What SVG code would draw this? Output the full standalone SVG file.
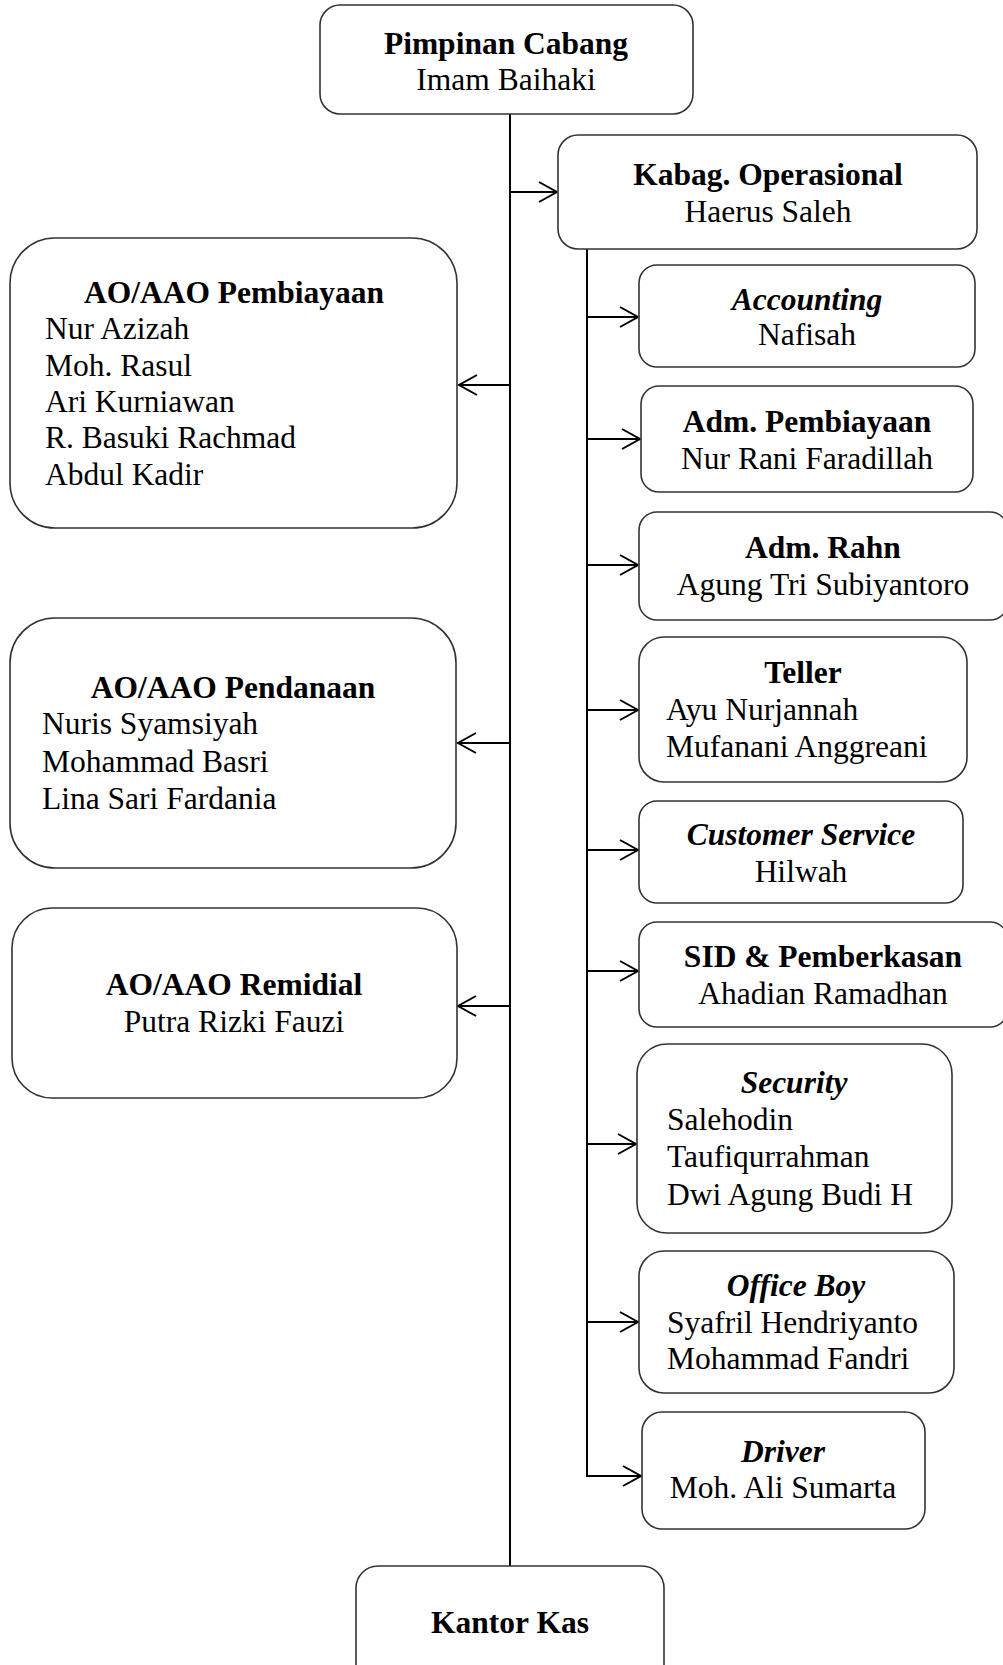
<svg xmlns="http://www.w3.org/2000/svg" width="1003" height="1665" viewBox="0 0 1003 1665">
<style>
.box{fill:#fff;stroke:#333;stroke-width:1.6}
text{font-family:"Liberation Serif","Times New Roman",serif;font-size:31.5px;fill:#000}
.c{text-anchor:middle}
.b{font-weight:bold}
.i{font-style:italic;font-weight:bold}
.ln{fill:none;stroke:#000;stroke-width:2}
</style>
<defs>
<marker id="ah" markerUnits="userSpaceOnUse" markerWidth="24" markerHeight="26" refX="19" refY="11" orient="auto" viewBox="0 0 24 26">
<path d="M1,1 L19,11 L1,21" fill="none" stroke="#000" stroke-width="2"/>
</marker>
</defs>
<g id="connectors">
<path class="ln" d="M510,114 V1566"/>
<path class="ln" d="M510,192 H557" marker-end="url(#ah)"/>
<path class="ln" d="M510,385 H459" marker-end="url(#ah)"/>
<path class="ln" d="M510,743 H458" marker-end="url(#ah)"/>
<path class="ln" d="M510,1006 H458" marker-end="url(#ah)"/>
<path class="ln" d="M587,249 V1476 H641" marker-end="url(#ah)"/>
<path class="ln" d="M587,317 H638" marker-end="url(#ah)"/>
<path class="ln" d="M587,439 H640" marker-end="url(#ah)"/>
<path class="ln" d="M587,565 H638" marker-end="url(#ah)"/>
<path class="ln" d="M587,710 H638" marker-end="url(#ah)"/>
<path class="ln" d="M587,850 H638" marker-end="url(#ah)"/>
<path class="ln" d="M587,971 H638" marker-end="url(#ah)"/>
<path class="ln" d="M587,1144 H636" marker-end="url(#ah)"/>
<path class="ln" d="M587,1322 H638" marker-end="url(#ah)"/>
</g>
<g id="pimpinan">
<rect class="box" x="320" y="5" width="373" height="109" rx="20"/>
<text class="c b" x="506" y="54">Pimpinan Cabang</text>
<text class="c" x="506" y="90">Imam Baihaki</text>
</g>
<g id="kabag">
<rect class="box" x="558" y="135" width="419" height="114" rx="20"/>
<text class="c b" x="768" y="185">Kabag. Operasional</text>
<text class="c" x="768" y="222">Haerus Saleh</text>
</g>
<g id="ao-pembiayaan">
<rect class="box" x="10" y="238" width="447" height="290" rx="45"/>
<text class="c b" x="234" y="303">AO/AAO Pembiayaan</text>
<text x="45" y="339">Nur Azizah</text>
<text x="45" y="376">Moh. Rasul</text>
<text x="45" y="412">Ari Kurniawan</text>
<text x="45" y="448">R. Basuki Rachmad</text>
<text x="45" y="485">Abdul Kadir</text>
</g>
<g id="ao-pendanaan">
<rect class="box" x="10" y="618" width="446" height="250" rx="45"/>
<text class="c b" x="233" y="698">AO/AAO Pendanaan</text>
<text x="42" y="734">Nuris Syamsiyah</text>
<text x="42" y="772">Mohammad Basri</text>
<text x="42" y="809">Lina Sari Fardania</text>
</g>
<g id="ao-remidial">
<rect class="box" x="12" y="908" width="445" height="190" rx="40"/>
<text class="c b" x="234" y="995">AO/AAO Remidial</text>
<text class="c" x="234" y="1032">Putra Rizki Fauzi</text>
</g>
<g id="accounting">
<rect class="box" x="639" y="265" width="336" height="102" rx="18"/>
<text class="c i" x="807" y="310">Accounting</text>
<text class="c" x="807" y="345">Nafisah</text>
</g>
<g id="adm-pembiayaan">
<rect class="box" x="641" y="386" width="332" height="106" rx="18"/>
<text class="c b" x="807" y="432">Adm. Pembiayaan</text>
<text class="c" x="807" y="469">Nur Rani Faradillah</text>
</g>
<g id="adm-rahn">
<rect class="box" x="639" y="512" width="369" height="108" rx="18"/>
<text class="c b" x="823" y="558">Adm. Rahn</text>
<text class="c" x="823" y="595">Agung Tri Subiyantoro</text>
</g>
<g id="teller">
<rect class="box" x="639" y="637" width="328" height="145" rx="25"/>
<text class="c b" x="803" y="683">Teller</text>
<text x="666" y="720">Ayu Nurjannah</text>
<text x="666" y="757">Mufanani Anggreani</text>
</g>
<g id="customer-service">
<rect class="box" x="639" y="801" width="324" height="102" rx="18"/>
<text class="c i" x="801" y="845">Customer Service</text>
<text class="c" x="801" y="882">Hilwah</text>
</g>
<g id="sid">
<rect class="box" x="639" y="922" width="369" height="105" rx="18"/>
<text class="c b" x="823" y="967">SID &amp; Pemberkasan</text>
<text class="c" x="823" y="1004">Ahadian Ramadhan</text>
</g>
<g id="security">
<rect class="box" x="637" y="1044" width="315" height="189" rx="30"/>
<text class="c i" x="794" y="1093">Security</text>
<text x="667" y="1130">Salehodin</text>
<text x="667" y="1167">Taufiqurrahman</text>
<text x="667" y="1205">Dwi Agung Budi H</text>
</g>
<g id="office-boy">
<rect class="box" x="639" y="1251" width="315" height="142" rx="25"/>
<text class="c i" x="796" y="1296">Office Boy</text>
<text x="667" y="1333">Syafril Hendriyanto</text>
<text x="667" y="1369">Mohammad Fandri</text>
</g>
<g id="driver">
<rect class="box" x="642" y="1412" width="283" height="117" rx="20"/>
<text class="c i" x="783" y="1462">Driver</text>
<text class="c" x="783" y="1498">Moh. Ali Sumarta</text>
</g>
<g id="kantor-kas">
<rect class="box" x="356" y="1566" width="308" height="130" rx="22"/>
<text class="c b" x="510" y="1633">Kantor Kas</text>
</g>
</svg>
